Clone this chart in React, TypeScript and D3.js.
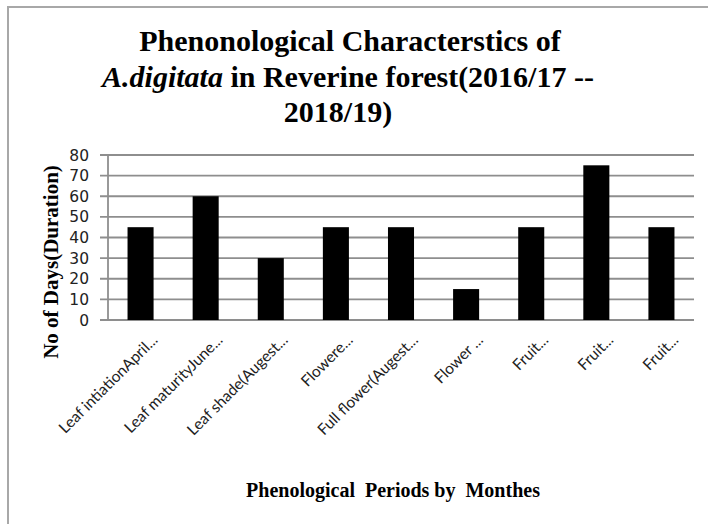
import React from "react";
import * as d3 from "d3";

const categories: string[] = [
  "Leaf intiationApril...",
  "Leaf maturityJune...",
  "Leaf shade(Augest...",
  "Flowere...",
  "Full flower(Augest...",
  "Flower ...",
  "Fruit...",
  "Fruit...",
  "Fruit...",
];
const durations: number[] = [45, 60, 30, 45, 45, 15, 45, 75, 45];
const yTicks: number[] = [0, 10, 20, 30, 40, 50, 60, 70, 80];

const W = 708;
const H = 524;
const plotLeft = 108;
const plotRight = 694;
const plotTop = 155;
const plotBottom = 320;

export default function App() {
  const idx = categories.map((_, i) => String(i));
  const x = d3
    .scaleBand<string>()
    .domain(idx)
    .range([plotLeft, plotRight])
    .paddingInner(0.6)
    .paddingOuter(0.3);
  const y = d3.scaleLinear().domain([0, 80]).range([plotBottom, plotTop]);

  const serif = "'Liberation Serif', 'Times New Roman', serif";
  const gridColor = "#8e8e8e";

  return (
    <svg
      width={W}
      height={H}
      style={{ position: "absolute", left: 0, top: 0, background: "#fff" }}
    >
      <rect x={0} y={0} width={W} height={H} fill="#fff" />
      <rect
        x={8}
        y={7}
        width={W + 50}
        height={H + 50}
        fill="none"
        stroke="#a8a8a8"
        strokeWidth={2}
      />
      {/* Title */}
      <g fontFamily={serif} fontWeight="bold" fontSize={30} fill="#000" textAnchor="middle">
        <text x={350} y={51}>Phenonological Characterstics of</text>
        <text x={348} y={87}>
          <tspan fontStyle="italic">A.digitata</tspan>
          <tspan> in Reverine forest(2016/17 --</tspan>
        </text>
        <text x={338} y={122}>2018/19)</text>
      </g>
      {/* Gridlines */}
      {yTicks.map((t) => (
        <line
          key={"g" + t}
          x1={plotLeft - 8}
          x2={plotRight}
          y1={y(t)}
          y2={y(t)}
          stroke={gridColor}
          strokeWidth={1.8}
        />
      ))}
      <line x1={plotLeft} x2={plotLeft} y1={y(80)} y2={y(0)} stroke={gridColor} strokeWidth={1.8} />
      {/* Y tick labels */}
      <g fontFamily="'DejaVu Sans', Verdana, sans-serif" fontSize={15.5} fill="#222" textAnchor="end">
        {yTicks.map((t) => (
          <text key={"t" + t} x={89} y={y(t)} dy="0.36em">
            {t}
          </text>
        ))}
      </g>
      {/* Bars */}
      {durations.map((v, i) => (
        <rect
          key={"b" + i}
          x={x(String(i))!}
          y={y(v)}
          width={x.bandwidth()}
          height={y(0) - y(v)}
          fill="#000"
        />
      ))}
      {/* X labels */}
      <g fontFamily="Lato, 'Open Sans', sans-serif" fontSize={15.5} fill="#222" textAnchor="end">
        {categories.map((c, i) => {
          const cx = x(String(i))! + x.bandwidth() / 2;
          return (
            <text key={"l" + i} transform={`translate(${cx + 18},${341}) rotate(-45)`}>
              {c}
            </text>
          );
        })}
      </g>
      {/* Axis titles */}
      <text
        transform={`translate(58,262) rotate(-90)`}
        textAnchor="middle"
        fontFamily={serif}
        fontWeight="bold"
        fontSize={21}
        fill="#000"
      >
        No of Days(Duration)
      </text>
      <text
        x={393}
        y={497}
        textAnchor="middle"
        fontFamily={serif}
        fontWeight="bold"
        fontSize={20}
        fill="#000"
        style={{ whiteSpace: "pre" }}
      >
        {"Phenological  Periods by  Monthes"}
      </text>
    </svg>
  );
}
